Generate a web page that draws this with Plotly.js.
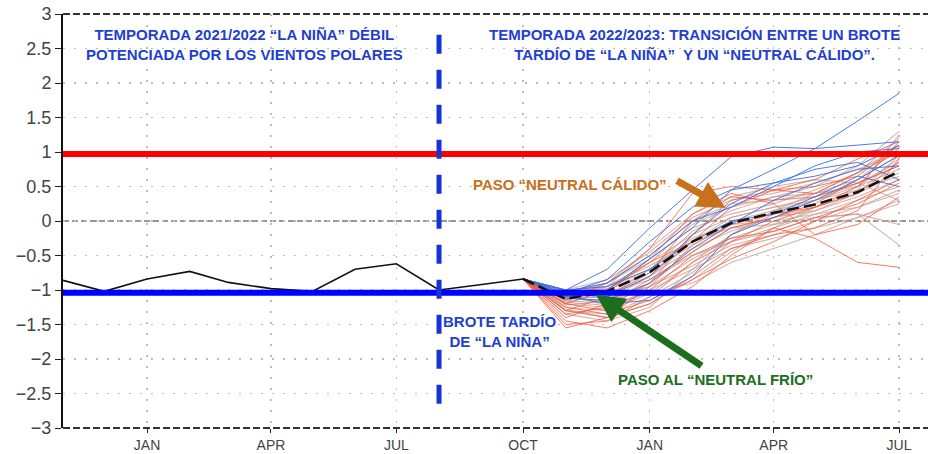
<!DOCTYPE html>
<html>
<head>
<meta charset="utf-8">
<script src="https://cdn.plot.ly/plotly-3.0.1.min.js"></script>
<style>html,body{margin:0;padding:0;background:#fff;}#chart{width:928px;height:454px;}</style>
</head>
<body>
<div id="chart"></div>
<script>
// Observed index (Nov 2021 – Oct 2022)
const obsMonths = ['2021-11-01','2021-12-01','2022-01-01','2022-02-01','2022-03-01','2022-04-01','2022-05-01','2022-06-01','2022-07-01','2022-08-01','2022-09-01','2022-10-01'];
const obsValues = [-0.86,-1.02,-0.84,-0.73,-0.89,-0.98,-1.02,-0.70,-0.62,-1.00,-0.92,-0.84];

// Forecast months (Oct 2022 – Jul 2023)
const fcMonths = ['2022-10-01','2022-11-01','2022-12-01','2023-01-01','2023-02-01','2023-03-01','2023-04-01','2023-05-01','2023-06-01','2023-07-01'];
const ensMean = [-0.84,-1.13,-1.02,-0.74,-0.30,-0.03,0.12,0.24,0.42,0.72];

const pinkMembers = [
  [-0.84,-1.05,-0.95,-0.60,-0.20,0.05,0.20,0.35,0.55,0.85],
  [-0.84,-1.10,-1.05,-0.80,-0.40,-0.15,0.05,0.20,0.40,0.70],
  [-0.84,-1.15,-1.20,-0.95,-0.55,-0.25,-0.05,0.15,0.35,0.60],
  [-0.84,-1.00,-0.85,-0.45,0.05,0.30,0.40,0.55,0.75,1.00],
  [-0.84,-1.20,-1.25,-1.00,-0.70,-0.40,-0.25,-0.10,0.05,0.25],
  [-0.84,-1.08,-0.90,-0.55,-0.10,0.10,0.25,0.45,0.70,1.20],
  [-0.84,-1.12,-1.10,-0.70,-0.25,-0.05,0.00,0.10,0.20,0.40],
  [-0.84,-1.05,-1.00,-0.75,-0.35,0.00,0.15,0.30,0.50,0.90],
  [-0.84,-1.25,-1.30,-1.05,-0.60,-0.20,0.10,0.30,0.55,0.80],
  [-0.84,-1.00,-0.95,-0.65,-0.30,-0.10,-0.05,0.05,0.10,-0.05],
  [-0.84,-1.15,-1.00,-0.60,-0.05,0.20,0.35,0.50,0.80,1.30],
  [-0.84,-1.10,-1.20,-0.90,-0.45,-0.10,0.05,0.15,0.40,0.95],
  [-0.84,-1.30,-1.35,-1.10,-0.75,-0.30,-0.15,0.05,0.10,-0.35],
  [-0.84,-1.05,-0.90,-0.50,0.00,0.25,0.30,0.40,0.60,1.05],
  [-0.84,-1.18,-1.05,-0.85,-0.50,-0.30,-0.10,0.10,0.30,0.50],
  [-0.84,-1.02,-0.98,-0.70,-0.15,0.15,0.35,0.40,0.50,0.75],
  [-0.84,-1.22,-1.15,-0.80,-0.30,0.05,0.20,0.30,0.45,0.65],
  [-0.84,-1.08,-1.12,-0.95,-0.65,-0.35,-0.20,0.00,0.20,0.45],
  [-0.84,-1.28,-1.40,-1.20,-0.85,-0.45,-0.10,0.20,0.45,1.25],
  [-0.84,-1.12,-0.95,-0.40,0.10,0.35,0.50,0.60,0.55,0.30],
  [-0.84,-1.35,-1.45,-1.25,-0.70,-0.20,0.15,0.40,0.70,1.10],
  [-0.84,-1.18,-1.22,-1.05,-0.90,-0.60,-0.40,-0.20,0.05,0.30]
];
const redMembers = [
  [-0.84,-1.30,-1.40,-1.20,-0.80,-0.40,-0.20,-0.10,0.15,0.90],
  [-0.84,-1.45,-1.55,-1.30,-0.95,-0.50,-0.10,-0.25,-0.60,-0.67],
  [-0.84,-1.15,-0.90,-0.40,0.40,0.50,0.45,0.40,0.70,1.00],
  [-0.84,-1.35,-1.25,-0.90,-0.20,0.30,0.45,0.50,0.65,1.10],
  [-0.84,-1.50,-1.45,-1.10,-0.60,-0.30,0.00,0.20,0.50,1.15],
  [-0.84,-1.10,-1.05,-0.55,0.10,0.40,0.25,-0.20,-0.05,0.35],
  [-0.84,-1.40,-1.20,-0.85,-0.45,-0.10,0.05,0.25,0.60,0.95],
  [-0.84,-1.25,-1.35,-1.15,-0.85,-0.55,-0.30,0.00,0.30,0.60],
  [-0.84,-1.20,-1.00,-0.60,-0.30,0.20,0.45,0.60,0.90,1.15],
  [-0.84,-1.55,-1.40,-0.95,-0.35,-0.05,0.10,0.20,0.40,0.85],
  [-0.84,-1.30,-1.10,-0.75,0.00,0.35,0.30,0.35,0.55,0.80],
  [-0.84,-1.20,-1.30,-1.00,-0.50,-0.25,-0.15,0.05,0.25,0.55]
];
const blueMembers = [
  [-0.84,-1.00,-0.70,-0.10,0.45,0.93,1.07,1.05,1.10,1.15],
  [-0.84,-1.05,-0.85,-0.30,0.20,0.45,0.75,1.05,1.45,1.85],
  [-0.84,-1.10,-1.00,-0.55,-0.10,0.45,0.55,0.65,0.80,1.10],
  [-0.84,-1.08,-1.20,-1.15,-0.80,-0.20,0.05,0.30,0.60,0.95],
  [-0.84,-1.02,-0.90,-0.50,0.00,0.20,0.50,0.80,1.00,1.05],
  [-0.84,-1.12,-1.15,-0.90,-0.40,-0.05,0.30,0.55,0.75,0.80],
  [-0.84,-1.05,-1.10,-0.80,-0.20,0.25,0.55,0.75,0.85,0.60],
  [-0.84,-1.00,-0.95,-0.70,-0.30,0.00,0.10,0.35,0.65,0.50]
];

const tickDates = ['2022-01-01','2022-04-01','2022-07-01','2022-10-01','2023-01-01','2023-04-01','2023-07-01'];
const tickLabels = ['JAN','APR','JUL','OCT','JAN','APR','JUL'];
const yTicks = [-3,-2.5,-2,-1.5,-1,-0.5,0,0.5,1,1.5,2,2.5,3];

const upperThreshold = 0.97;
const lowerThreshold = -1.04;
const dividerDate = '2022-08-01';

const traces = [];
function addGroup(members, color, width) {
  members.forEach(v => traces.push({
    x: fcMonths, y: v, type: 'scatter', mode: 'lines',
    line: {color: color, width: width}, hoverinfo: 'skip'
  }));
}
addGroup(pinkMembers, 'rgba(200,160,150,0.8)', 1.1);
addGroup(redMembers, 'rgba(250,80,50,0.85)', 0.9);
addGroup(blueMembers, 'rgba(55,110,230,0.9)', 1);
traces.push({x: fcMonths, y: ensMean, type: 'scatter', mode: 'lines',
  line: {color: '#111', width: 2.5, dash: '12px,5px'}, hoverinfo: 'skip'});
traces.push({x: obsMonths, y: obsValues, type: 'scatter', mode: 'lines',
  line: {color: '#111', width: 1.6}, hoverinfo: 'skip'});

const txtFont = 'Liberation Sans, Arial, sans-serif';
const blueText = '#1f3fd0';

const layout = {
  width: 928, height: 454,
  margin: {l: 63, r: 0, t: 14, b: 26},
  paper_bgcolor: '#fff', plot_bgcolor: '#fff',
  showlegend: false,
  font: {family: 'Liberation Sans, Arial, sans-serif'},
  xaxis: {
    type: 'date', range: ['2021-11-01', '2023-07-22'],
    tickmode: 'array', tickvals: tickDates, ticktext: tickLabels,
    ticks: 'outside', ticklen: 4, tickcolor: '#222', tickwidth: 1,
    tickfont: {size: 14, color: '#444'},
    showgrid: true, gridcolor: '#bdbdbd', gridwidth: 1.2, griddash: '2px,9px',
    showline: false, zeroline: false
  },
  yaxis: {
    range: [-3, 3], tickmode: 'array', tickvals: yTicks,
    ticks: 'outside', ticklen: 6, tickcolor: '#222', tickwidth: 1,
    tickfont: {size: 18, color: '#444'},
    showgrid: true, gridcolor: '#bdbdbd', gridwidth: 1.2, griddash: '2px,9px',
    showline: true, linecolor: '#111', linewidth: 2,
    zeroline: false
  },
  shapes: [
    {type: 'line', xref: 'paper', yref: 'y', x0: 0, x1: 1, y0: 0, y1: 0,
     line: {color: '#777', width: 1.3, dash: '6px,3px'}, layer: 'below'},
    {type: 'line', xref: 'paper', yref: 'paper', x0: 0, x1: 1, y0: 1, y1: 1,
     line: {color: '#333', width: 2, dash: '7px,3px'}},
    {type: 'line', xref: 'paper', yref: 'paper', x0: 0, x1: 1, y0: 0, y1: 0,
     line: {color: '#333', width: 2, dash: '7px,3px'}},
    {type: 'line', xref: 'paper', yref: 'y', x0: 0, x1: 1, y0: upperThreshold, y1: upperThreshold,
     line: {color: '#ff0000', width: 6}, layer: 'above'},
    {type: 'line', xref: 'paper', yref: 'y', x0: 0, x1: 1, y0: lowerThreshold, y1: lowerThreshold,
     line: {color: '#0000ff', width: 6}, layer: 'above'},
    {type: 'line', xref: 'x', yref: 'y', x0: dividerDate, x1: dividerDate, y0: 2.70, y1: -2.88,
     line: {color: '#1434d8', width: 5, dash: '19px,16px'}, layer: 'above'}
  ],
  annotations: [
    {xref: 'paper', yref: 'paper', x: 0.2104, y: 0.9275, xanchor: 'center', yanchor: 'middle', showarrow: false,
     text: 'TEMPORADA 2021/2022 “LA NIÑA” DÉBIL<br>POTENCIADA POR LOS VIENTOS POLARES',
     font: {family: txtFont, size: 15, color: blueText, weight: 'bold'}, align: 'center'},
    {xref: 'paper', yref: 'paper', x: 0.7306, y: 0.9275, xanchor: 'center', yanchor: 'middle', showarrow: false,
     text: 'TEMPORADA 2022/2023: TRANSICIÓN ENTRE UN BROTE<br>TARDÍO DE “LA NIÑA”  Y UN “NEUTRAL CÁLIDO”.',
     font: {family: txtFont, size: 15, color: blueText, weight: 'bold'}, align: 'center'},
    {xref: 'paper', yref: 'paper', x: 0.586, y: 0.587, xanchor: 'center', yanchor: 'middle', showarrow: false,
     text: 'PASO “NEUTRAL CÁLIDO”',
     font: {family: txtFont, size: 15, color: '#c86f1c', weight: 'bold'}},
    {xref: 'paper', yref: 'paper', x: 0.505, y: 0.234, xanchor: 'center', yanchor: 'middle', showarrow: false,
     text: 'BROTE TARDÍO<br>DE “LA NIÑA”',
     font: {family: txtFont, size: 15, color: blueText, weight: 'bold'}, align: 'center'},
    {xref: 'paper', yref: 'paper', x: 0.7538, y: 0.116, xanchor: 'center', yanchor: 'middle', showarrow: false,
     text: 'PASO AL “NEUTRAL FRÍO”',
     font: {family: txtFont, size: 15, color: '#1b6e1b', weight: 'bold'}},
    {xref: 'x', yref: 'y', x: '2023-02-25', y: 0.19, text: '', showarrow: true,
     ax: -50, ay: -28, arrowhead: 2, arrowsize: 0.8, arrowwidth: 7, arrowcolor: '#c8711c', standoff: 0},
    {xref: 'x', yref: 'y', x: '2022-11-23', y: -1.07, text: '', showarrow: true,
     ax: 107, ay: 72, arrowhead: 2, arrowsize: 0.8, arrowwidth: 7, arrowcolor: '#1b6e1b', standoff: 0}
  ]
};

Plotly.newPlot('chart', traces, layout, {displayModeBar: false, staticPlot: true});
</script>
</body>
</html>
